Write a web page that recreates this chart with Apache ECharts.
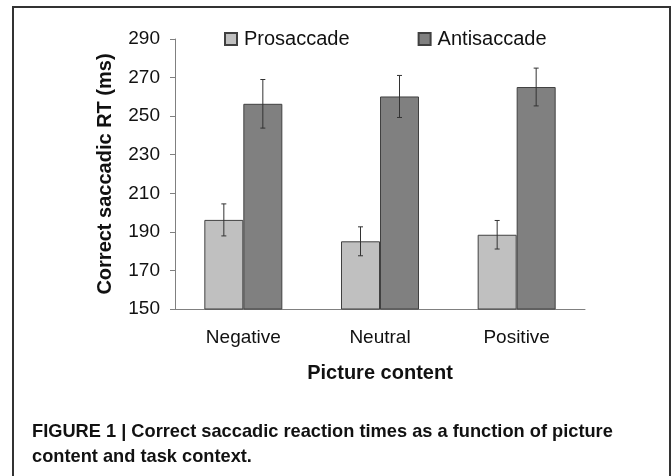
<!DOCTYPE html>
<html>
<head>
<meta charset="utf-8">
<title>Correct saccadic RT</title>
<script src="https://cdn.jsdelivr.net/npm/echarts@6/dist/echarts.min.js"></script>
<style>
  html, body { margin: 0; padding: 0; background: #fff; }
  #main { width: 671px; height: 476px; }
</style>
</head>
<body>
<div id="main"></div>
<script>
var categories = ['Negative', 'Neutral', 'Positive'];
var prosaccade = [196.2, 185.1, 188.5];
var antisaccade = [256.4, 260.2, 265.1];
var prosaccadeErr = [8.3, 7.5, 7.4];
var antisaccadeErr = [12.6, 10.9, 9.8];
var seriesNames = ['Prosaccade', 'Antisaccade'];

var barWidth = 39;

// error bars drawn over each bar, shifted half a bar left/right of the category center
function errorBars(means, errs, side) {
  return {
    type: 'custom',
    silent: true,
    z: 5,
    data: means.map(function (m, i) { return [i, m - errs[i], m + errs[i]]; }),
    renderItem: function (params, api) {
      var lo = api.coord([api.value(0), api.value(1)]);
      var hi = api.coord([api.value(0), api.value(2)]);
      var x = lo[0] + side * barWidth / 2;
      var cap = 2.5;
      var st = { stroke: '#333', lineWidth: 1 };
      return {
        type: 'group',
        children: [
          { type: 'line', shape: { x1: x, y1: hi[1], x2: x, y2: lo[1] }, style: st },
          { type: 'line', shape: { x1: x - cap, y1: hi[1], x2: x + cap, y2: hi[1] }, style: st },
          { type: 'line', shape: { x1: x - cap, y1: lo[1], x2: x + cap, y2: lo[1] }, style: st }
        ]
      };
    }
  };
}

var myChart = echarts.init(document.getElementById('main'));
myChart.setOption({
  backgroundColor: '#fff',
  animation: false,
  textStyle: { fontFamily: '"Liberation Sans", Arial, sans-serif' },
  legend: {
    data: seriesNames,
    left: 219,
    top: 24,
    itemWidth: 12,
    itemHeight: 12,
    itemGap: 68,
    icon: 'rect',
    textStyle: { fontSize: 20, color: '#111', padding: [0, 0, 0, 2] }
  },
  grid: {
    left: 175,
    right: 86,
    top: 39,
    bottom: 167
  },
  xAxis: {
    type: 'category',
    data: categories,
    name: 'Picture content',
    nameLocation: 'middle',
    nameGap: 54,
    nameTextStyle: { fontSize: 20, fontWeight: 'bold', color: '#111' },
    axisLine: { lineStyle: { color: '#808080' } },
    axisTick: { length: 6, lineStyle: { color: '#808080' } },
    axisLabel: { fontSize: 19, color: '#111', margin: 19 }
  },
  yAxis: {
    type: 'value',
    min: 150,
    max: 290,
    interval: 20,
    name: 'Correct saccadic RT (ms)',
    nameLocation: 'middle',
    nameGap: 60,
    nameTextStyle: { fontSize: 20, fontWeight: 'bold', color: '#111' },
    splitLine: { show: false },
    axisLine: { show: true, lineStyle: { color: '#808080' } },
    axisTick: { show: true, length: 5, lineStyle: { color: '#808080' } },
    axisLabel: { fontSize: 19, color: '#111', margin: 15 }
  },
  series: [
    {
      name: seriesNames[0],
      type: 'bar',
      data: prosaccade,
      barWidth: barWidth,
      barGap: 0,
      itemStyle: { color: '#c0c0c0', borderColor: '#404040', borderWidth: 1 }
    },
    {
      name: seriesNames[1],
      type: 'bar',
      data: antisaccade,
      barWidth: barWidth,
      barGap: 0,
      itemStyle: { color: '#808080', borderColor: '#404040', borderWidth: 1 }
    },
    errorBars(prosaccade, prosaccadeErr, -1),
    errorBars(antisaccade, antisaccadeErr, 1)
  ],
  graphic: [
    {
      type: 'rect',
      shape: { x: 13, y: 7, width: 657, height: 500 },
      style: { fill: null, stroke: '#333', lineWidth: 2 },
      silent: true
    },
    {
      // caption set in a narrowed bold face
      type: 'text',
      x: 32,
      y: 419,
      scaleX: 0.96,
      style: {
        text: 'FIGURE 1 | Correct saccadic reaction times as a function of picture\ncontent and task context.',
        font: 'bold 19px "Liberation Sans", Arial, sans-serif',
        lineHeight: 25,
        fill: '#111'
      }
    }
  ]
});
</script>
</body>
</html>
